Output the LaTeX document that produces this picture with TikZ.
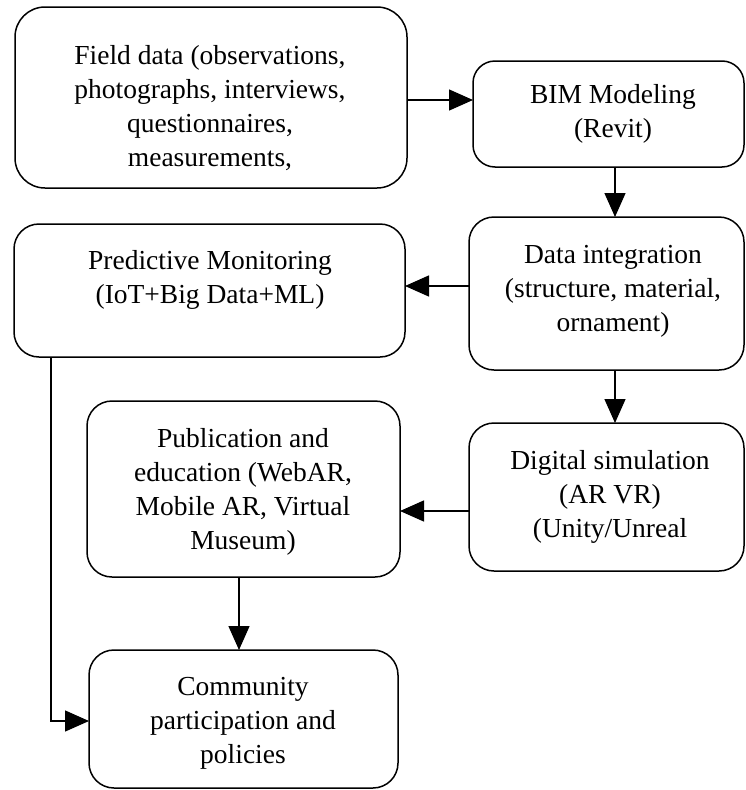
\documentclass[tikz,border=0pt]{standalone}
\usepackage{fontspec}
\setmainfont{Liberation Serif}
\usetikzlibrary{arrows.meta}
\begin{document}
\begin{tikzpicture}[x=1pt,y=-1pt,
  box/.style={draw, line width=1.5pt, rounded corners=25pt, inner sep=0pt, outer sep=0pt},
  lbl/.style={align=center, font=\fontsize{27.5}{34}\selectfont, inner sep=0pt},
  arr/.style={line width=1.4pt, -{Triangle[length=24pt,width=21pt]}}]
\useasboundingbox (0,0) rectangle (745,790);
% boxes
\node[box, rounded corners=30pt, minimum width=392pt, minimum height=181pt] (field) at (211,97.5) {};
\node[box, rounded corners=22pt, minimum width=271pt, minimum height=106pt] (bim) at (608.5,114) {};
\node[box, minimum width=275pt, minimum height=153pt] (data) at (606.5,293.5) {};
\node[box, minimum width=391pt, minimum height=133pt] (pred) at (209.5,290.5) {};
\node[box, minimum width=275pt, minimum height=148pt] (dig) at (606.5,497) {};
\node[box, minimum width=313pt, minimum height=176pt] (pub) at (243.5,489) {};
\node[box, minimum width=309pt, minimum height=138pt] (com) at (243.5,719) {};
% texts
\node[lbl] (tfield) at (210,108) {Field data (observations,\\photographs, interviews,\\questionnaires,\\measurements,};
\node[lbl] (tbim) at (613,114) {BIM Modeling\\(Revit)};
\node[lbl] (tdata) at (613,291) {Data integration\\(structure, material,\\ornament)};
\node[lbl] (tpred) at (210,280) {Predictive Monitoring\\(IoT+Big Data+ML)};
\node[lbl] (tdig) at (610,497) {Digital simulation\\(AR VR)\\(Unity/Unreal};
\node[lbl] (tpub) at (243,492) {Publication and\\education (WebAR,\\Mobile AR, Virtual\\Museum)};
\node[lbl] (tcom) at (243,723) {Community\\participation and\\policies};
% connectors
\draw[arr] (field.east |- 0,100) -- (bim.west |- 0,100);
\draw[arr] (bim.south -| 615,0) -- (data.north -| 615,0);
\draw[arr] (data.west |- 0,286) -- (pred.east |- 0,286);
\draw[arr] (data.south -| 615,0) -- (dig.north -| 615,0);
\draw[arr] (dig.west |- 0,511) -- (pub.east |- 0,511);
\draw[arr] (pub.south -| 239,0) -- (com.north -| 239,0);
\draw[arr] (pred.south -| 51,0) |- (com.west |- 0,721);
\end{tikzpicture}
\end{document}
